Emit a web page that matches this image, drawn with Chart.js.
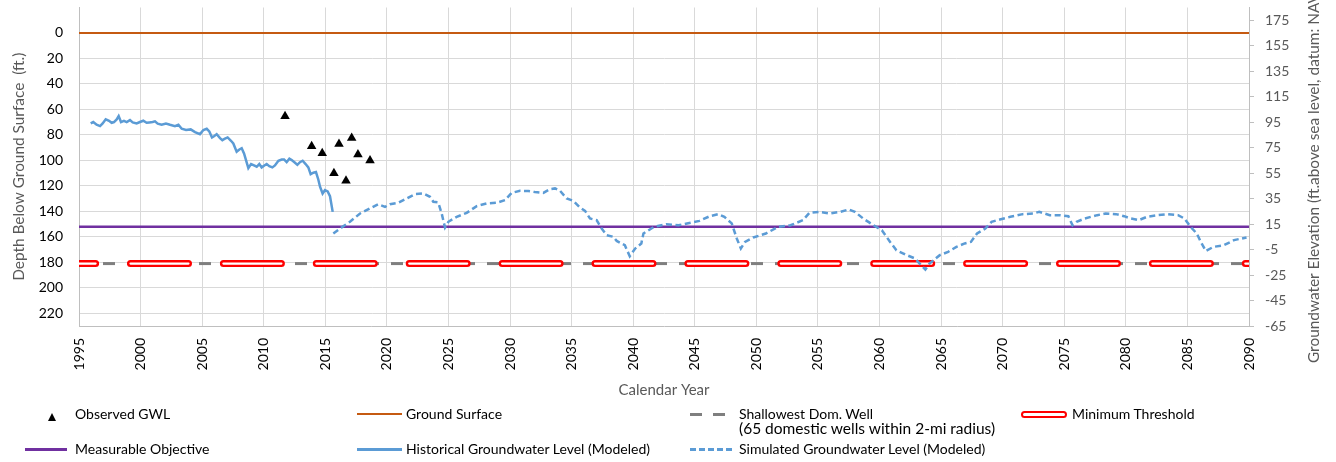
<!DOCTYPE html>
<html>
<head>
<meta charset="utf-8">
<script src="https://cdn.jsdelivr.net/npm/chart.js@4.4.1/dist/chart.umd.min.js"></script>
<style>
html,body{margin:0;padding:0;background:#fff;}
#wrap{position:relative;width:1336px;height:462px;overflow:hidden;font-family:Lato,"Open Sans",sans-serif;}
#c{position:absolute;left:0;top:0;}
.lg{position:absolute;font-size:14px;color:#000;line-height:16px;white-space:nowrap;}
.sw{position:absolute;}
.tri{width:0;height:0;border-left:4px solid transparent;border-right:4px solid transparent;border-bottom:8px solid #000;}
</style>
</head>
<body>
<div id="wrap">
<canvas id="c" width="1336" height="462"></canvas>
<div class="sw tri" style="left:48px;top:413px"></div>
<div class="lg" style="left:75px;top:406px">Observed GWL</div>
<div class="sw" style="left:357px;top:413px;width:45px;height:2px;background:#C55A11"></div>
<div class="lg" style="left:406px;top:406px">Ground Surface</div>
<div class="sw" style="left:690px;top:412.5px;width:12px;height:3px;background:#7F7F7F"></div>
<div class="sw" style="left:713px;top:412.5px;width:12px;height:3px;background:#7F7F7F"></div>
<div class="lg" style="left:739px;top:406px">Shallowest Dom. Well</div>
<div class="lg" style="left:739px;top:420px;font-size:15.5px">(65 domestic wells within 2-mi radius)</div>
<div class="sw" style="left:1021px;top:410.5px;width:42px;height:3px;border:2px solid #FF0000;border-radius:4px;background:#fff"></div>
<div class="lg" style="left:1072px;top:406px">Minimum Threshold</div>
<div class="sw" style="left:25px;top:447.5px;width:42px;height:3px;background:#7030A0"></div>
<div class="lg" style="left:75px;top:441px">Measurable Objective</div>
<div class="sw" style="left:357px;top:448px;width:45px;height:2.5px;background:#5B9BD5"></div>
<div class="lg" style="left:406px;top:441px">Historical Groundwater Level (Modeled)</div>
<div class="sw" style="left:690px;top:448px;width:45px;height:2.5px;background:repeating-linear-gradient(90deg,#5B9BD5 0 6px,transparent 6px 9px)"></div>
<div class="lg" style="left:739px;top:441px">Simulated Groundwater Level (Modeled)</div>
</div>
<script>
// ---- axis definitions ----
const xTicks = [1995,2000,2005,2010,2015,2020,2025,2030,2035,2040,2045,2050,2055,2060,2065,2070,2075,2080,2085,2090];
const leftTicks = [0,20,40,60,80,100,120,140,160,180,200,220];
const rightTicks = [-65,-45,-25,-5,15,35,55,75,95,115,135,155,175];
const xTitle = "Calendar Year";
const leftTitle = "Depth Below Ground Surface  (ft.)";
const rightTitle = "Groundwater Elevation (ft.above sea level, datum: NAVD88)";

// ---- reference levels (depth, ft) ----
const groundSurfaceDepth = 0;
const measurableObjectiveDepth = 152;
const minimumThresholdDepth = 181;
const shallowestWellDepth = 181;

// ---- observed GWL ----
const obsYears = [2011.73,2013.89,2014.75,2015.70,2016.11,2016.68,2017.14,2017.65,2018.63];
const obsDepth = [65.4,89.0,94.5,110.2,87.2,116.0,82.5,95.3,100.0];

// ---- historical modeled ----
const histYears = [1995.95,1996.16,1996.43,1996.71,1996.92,1997.17,1997.44,1997.65,1997.84,1998.06,1998.22,1998.41,1998.65,1998.87,1999.14,1999.36,1999.68,1999.95,2000.22,2000.49,2000.71,2000.98,2001.17,2001.39,2001.71,2002.06,2002.39,2002.79,2003.07,2003.34,2003.69,2004.07,2004.42,2004.82,2005.10,2005.37,2005.58,2005.80,2005.99,2006.18,2006.45,2006.64,2006.85,2007.07,2007.34,2007.53,2007.80,2008.02,2008.21,2008.40,2008.56,2008.75,2008.97,2009.21,2009.43,2009.64,2009.83,2010.05,2010.24,2010.45,2010.70,2010.91,2011.19,2011.46,2011.65,2011.86,2012.08,2012.27,2012.54,2012.73,2012.94,2013.16,2013.40,2013.62,2013.81,2014.03,2014.24,2014.43,2014.57,2014.78,2014.97,2015.19,2015.38,2015.60];
const histDepth = [71.0,69.9,72.0,73.1,71.0,67.8,68.9,70.5,69.9,67.8,65.2,69.9,68.9,69.9,68.4,70.2,71.0,69.9,68.9,70.5,70.2,69.9,69.4,71.2,72.0,71.0,72.0,73.1,72.0,75.2,76.2,75.7,77.8,79.4,76.2,75.2,77.3,82.0,80.9,79.4,82.5,84.1,83.0,82.0,84.6,86.7,93.2,91.4,90.4,94.5,99.8,106.1,102.9,104.0,105.0,102.9,105.5,104.0,102.9,104.5,105.5,104.0,100.3,99.3,99.3,101.4,98.7,99.8,101.9,103.5,101.4,100.3,102.9,105.5,110.8,109.7,109.2,115.0,120.7,126.0,123.4,124.4,128.1,140.4];

// ---- simulated modeled ----
const simYears = [2015.65,2016.19,2017.00,2017.82,2018.63,2019.30,2019.85,2020.25,2020.93,2021.61,2022.28,2022.96,2023.50,2023.77,2024.17,2024.45,2024.72,2024.99,2025.67,2026.48,2027.29,2028.10,2028.92,2029.59,2030.13,2030.81,2031.48,2032.02,2032.70,2033.24,2033.65,2034.06,2034.60,2035.14,2035.68,2036.09,2036.49,2037.03,2037.44,2037.85,2038.38,2038.66,2039.32,2039.72,2040.16,2040.66,2040.83,2041.68,2042.69,2043.69,2044.37,2045.38,2046.22,2046.89,2047.40,2048.00,2048.41,2048.74,2049.08,2049.75,2050.77,2051.77,2052.78,2053.79,2054.30,2055.13,2055.98,2056.82,2057.50,2058.00,2058.67,2059.52,2060.19,2060.86,2061.37,2062.21,2062.88,2063.38,2063.72,2064.06,2064.39,2064.89,2065.57,2066.24,2066.92,2067.42,2067.92,2068.59,2069.10,2069.77,2070.62,2071.62,2072.47,2072.97,2073.82,2074.65,2075.33,2075.67,2076.00,2076.67,2077.68,2078.36,2079.20,2079.86,2080.38,2081.05,2081.72,2082.56,2083.40,2084.24,2084.75,2085.26,2085.76,2086.09,2086.50,2087.11,2087.95,2088.79,2089.80];
const simDepth = [157.4,153.5,148.2,141.7,137.7,134.4,136.5,134.4,133.3,129.9,126.5,126.0,128.6,132.5,133.0,141.7,152.7,148.2,144.3,141.2,135.9,133.8,133.3,131.2,125.5,123.9,124.1,124.9,125.5,122.6,122.0,123.9,129.9,131.8,137.0,139.6,145.6,146.9,153.5,158.7,160.0,163.2,166.6,175.2,169.2,165.2,157.4,152.2,150.1,150.9,149.5,147.5,143.8,142.2,144.3,149.5,161.3,169.2,164.0,160.5,157.4,152.2,150.9,146.9,141.2,140.4,141.7,140.4,138.5,140.4,145.6,150.9,154.8,164.0,170.5,174.4,177.0,182.3,185.7,181.0,178.4,174.4,171.8,167.9,165.2,164.0,157.4,153.5,148.2,146.4,144.3,142.2,141.7,140.4,143.0,143.0,143.8,150.9,148.2,145.6,143.0,141.7,142.2,143.8,145.6,146.9,144.3,143.0,142.2,143.0,145.6,152.2,157.4,164.0,171.1,167.9,166.6,162.6,160.5];

const pts = (xs, ys) => xs.map((x, i) => ({x: x, y: ys[i]}));
const level = (d) => [{x: xTicks[0], y: d}, {x: xTicks[xTicks.length - 1], y: d}];

const FONT = 'Lato';
Chart.defaults.font.family = FONT;
const TITLE_SIZE = 15.4;

const rightTitlePlugin = {
  id: 'rightTitle',
  afterDraw(chart) {
    const ctx = chart.ctx;
    ctx.save();
    ctx.font = TITLE_SIZE + 'px ' + FONT;
    ctx.fillStyle = '#595959';
    ctx.translate(chart.chartArea.right + 65, 363);
    ctx.rotate(-Math.PI / 2);
    ctx.textAlign = 'left';
    ctx.textBaseline = 'middle';
    ctx.fillText(rightTitle, 0, 0);
    ctx.restore();
  }
};

const mtDash = [58, 34.9];
const mtOffset = 41.4;

new Chart(document.getElementById('c'), {
  type: 'scatter',
  data: {
    datasets: [
      {label: 'Observed GWL', data: pts(obsYears, obsDepth), showLine: false, pointStyle: 'triangle', pointRadius: 5.5, pointBackgroundColor: '#000', pointBorderColor: '#000', pointBorderWidth: 0, yAxisID: 'y'},
      {label: 'Historical Groundwater Level (Modeled)', data: pts(histYears, histDepth), showLine: true, borderColor: '#5B9BD5', borderWidth: 2.5, pointRadius: 0, tension: 0, yAxisID: 'y'},
      {label: 'Simulated Groundwater Level (Modeled)', data: pts(simYears, simDepth), showLine: true, borderColor: '#5B9BD5', borderWidth: 2.5, borderDash: [6, 3.5], pointRadius: 0, tension: 0, yAxisID: 'y'},
      {label: 'Measurable Objective', data: level(measurableObjectiveDepth), showLine: true, borderColor: '#7030A0', borderWidth: 2.5, pointRadius: 0, yAxisID: 'y'},
      {label: 'Ground Surface', data: level(groundSurfaceDepth), showLine: true, borderColor: '#C55A11', borderWidth: 2, pointRadius: 0, yAxisID: 'y'},
      {label: 'Minimum Threshold inner', data: level(minimumThresholdDepth), showLine: true, borderColor: '#FFFFFF', borderWidth: 2.2, borderDash: mtDash, borderDashOffset: mtOffset, borderCapStyle: 'round', pointRadius: 0, yAxisID: 'y'},
      {label: 'Minimum Threshold', data: level(minimumThresholdDepth), showLine: true, borderColor: '#FF0000', borderWidth: 7, borderDash: mtDash, borderDashOffset: mtOffset, borderCapStyle: 'round', pointRadius: 0, yAxisID: 'y'},
      {label: 'Shallowest Dom. Well', data: level(shallowestWellDepth), showLine: true, borderColor: '#7F7F7F', borderWidth: 3, borderDash: [12, 12], pointRadius: 0, yAxisID: 'y'}
    ]
  },
  options: {
    responsive: false,
    animation: false,
    events: [],
    layout: {padding: {top: 7.5, bottom: 62, left: 0, right: 0}},
    plugins: {legend: {display: false}, tooltip: {enabled: false}},
    scales: {
      x: {
        type: 'linear', position: 'bottom', min: xTicks[0], max: xTicks[xTicks.length - 1],
        afterBuildTicks: (s) => { s.ticks = xTicks.map(v => ({value: v})); },
        afterFit: (s) => { s.height = 74; s.paddingLeft = 0; s.paddingRight = 0; },
        grid: {color: '#D9D9D9', lineWidth: 1, drawTicks: false},
        border: {color: '#BFBFBF', width: 1},
        ticks: {autoSkip: false, maxRotation: 90, minRotation: 90, padding: 12, color: '#000', font: {size: 14}, callback: (v) => String(v)},
        title: {display: true, text: xTitle, color: '#595959', font: {size: 15, lineHeight: 1.2}, padding: {top: 0, bottom: 1}}
      },
      y: {
        type: 'linear', position: 'left', reverse: true, min: -20, max: 230,
        afterBuildTicks: (s) => { s.ticks = leftTicks.map(v => ({value: v})); },
        afterFit: (s) => { s.width = 79; s.paddingTop = 0; s.paddingBottom = 0; },
        grid: {color: '#D9D9D9', lineWidth: 1, drawTicks: false},
        border: {color: '#BFBFBF', width: 1},
        ticks: {padding: 16, color: '#000', font: {size: 14}, callback: (v) => String(v)},
        title: {display: true, text: leftTitle, color: '#595959', font: {size: TITLE_SIZE, lineHeight: 1.2}, padding: {top: 9.5, bottom: 0}}
      },
      y2: {
        type: 'linear', position: 'right', min: -65, max: 185,
        afterBuildTicks: (s) => { s.ticks = rightTicks.map(v => ({value: v})); },
        afterFit: (s) => { s.width = 87; s.paddingTop = 0; s.paddingBottom = 0; },
        grid: {drawOnChartArea: false, drawTicks: true, tickLength: 5, color: '#BFBFBF'},
        border: {color: '#BFBFBF', width: 1},
        ticks: {padding: 11, color: '#595959', font: {size: 14}, callback: (v) => String(v)}
      }
    }
  },
  plugins: [rightTitlePlugin]
});
</script>
</body>
</html>
